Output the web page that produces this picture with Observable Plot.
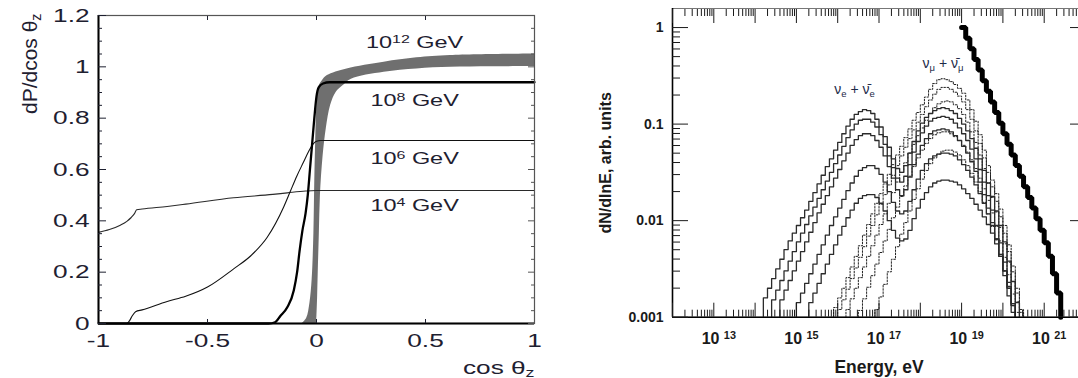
<!DOCTYPE html>
<html><head><meta charset="utf-8">
<script src="https://cdn.jsdelivr.net/npm/d3@7"></script>
<script src="https://cdn.jsdelivr.net/npm/@observablehq/plot@0.6"></script>
<style>
html,body{margin:0;padding:0;background:#fff;overflow:hidden;}
#wrap{position:relative;width:1078px;height:378px;overflow:hidden;background:#fff;}
#left{position:absolute;left:0;top:0;width:560px;height:378px;}
#right{position:absolute;left:560px;top:0;width:530px;height:378px;}
#wrap svg{display:block;overflow:visible;max-width:none !important;}
</style></head><body><div id="wrap"><div id="left"></div><div id="right"></div></div>
<script>
// ================= LEFT PANEL DATA (dP/dcos θz vs cos θz) =================
const cosZ_1e4 = [-1, -0.95, -0.9, -0.87, -0.85, -0.835, -0.825, -0.8, -0.685, -0.6, -0.38, -0.2, -0.134, -0.05, 0.0, 1.0];
const dP_1e4   = [0.355, 0.366, 0.383, 0.398, 0.413, 0.428, 0.443, 0.446, 0.456, 0.465, 0.490, 0.503, 0.509, 0.516, 0.518, 0.518];

const cosZ_1e6 = [-1, -0.87, -0.86, -0.845, -0.83, -0.8, -0.685, -0.6, -0.5, -0.38, -0.3, -0.226, -0.15, -0.12, -0.09, -0.06, -0.035, -0.015, 0.0, 0.02, 1.0];
const dP_1e6   = [0, 0, 0.008, 0.03, 0.046, 0.053, 0.086, 0.106, 0.142, 0.213, 0.265, 0.336, 0.455, 0.515, 0.575, 0.628, 0.672, 0.70, 0.71, 0.713, 0.713];

const cosZ_1e8 = [-1, -0.22, -0.19, -0.165, -0.134, -0.104, -0.089, -0.078, -0.065, -0.05, -0.04, -0.03, -0.02, -0.01, 0.0, 0.01, 0.03, 0.06, 1.0];
const dP_1e8   = [0, 0, 0.005, 0.03, 0.063, 0.13, 0.2, 0.28, 0.36, 0.43, 0.5, 0.6, 0.7, 0.8, 0.885, 0.92, 0.935, 0.94, 0.94];

// 10^12 GeV: a band, upper/left edge and lower/right edge
const band1e12_upperX = [-0.065, -0.045, -0.03, -0.02, -0.012, -0.008, -0.004, 0.0, 0.005, 0.012, 0.026, 0.05, 0.14, 0.31, 0.46, 0.615, 1.0];
const band1e12_upperY = [0, 0.02, 0.08, 0.17, 0.35, 0.55, 0.7, 0.82, 0.89, 0.925, 0.945, 0.966, 0.992, 1.018, 1.035, 1.044, 1.05];
const band1e12_lowerX = [0.0, 0.002, 0.005, 0.008, 0.013, 0.018, 0.03, 0.045, 0.065, 0.09, 0.12, 0.16, 0.31, 0.46, 0.615, 0.8, 1.0];
const band1e12_lowerY = [0, 0.03, 0.1, 0.2, 0.35, 0.5, 0.65, 0.76, 0.85, 0.9, 0.925, 0.952, 0.979, 0.992, 0.998, 1.0, 1.001];

const energyLabels = ["10^{4} GeV", "10^{6} GeV", "10^{8} GeV", "10^{12} GeV"];
const leftYTicks = [0, 0.2, 0.4, 0.6, 0.8, 1, 1.2];
const leftYMinor = [0.05, 0.1, 0.15, 0.25, 0.3, 0.35, 0.45, 0.5, 0.55, 0.65, 0.7, 0.75, 0.85, 0.9, 0.95, 1.05, 1.1, 1.15];
const leftXTicks = [-1, -0.5, 0, 0.5, 1];
const leftXInner = [-0.5, 0, 0.5];

// ================= RIGHT PANEL DATA (dN/dlnE vs Energy) =================
// each histogram: log10(E/eV) of first bin's lower edge, bins 0.1 decade wide, log10(dN/dlnE) per bin
const solidA_start = 14.2;
const solidA_log10 = [-2.80,-2.70,-2.60,-2.50,-2.40,-2.30,-2.21,-2.13,-2.05,-1.97,-1.89,-1.80,-1.71,-1.62,-1.53,-1.44,-1.36,-1.27,-1.19,-1.10,-1.02,-0.95,-0.90,-0.87,-0.85,-0.86,-0.89,-0.95,-1.03,-1.13,-1.24,-1.36,-1.46,-1.50,-1.43,-1.30,-1.18,-1.07,-0.99,-0.93,-0.89,-0.86,-0.84,-0.83,-0.84,-0.86,-0.89,-0.94,-1.00,-1.07,-1.15,-1.25,-1.36,-1.48,-1.61,-1.75,-1.90,-2.05,-2.22,-2.42,-2.63,-2.85];
const solidB_start = 14.4;
const solidB_log10 = [-2.82,-2.72,-2.62,-2.52,-2.42,-2.32,-2.22,-2.13,-2.04,-1.95,-1.86,-1.77,-1.68,-1.59,-1.50,-1.41,-1.32,-1.23,-1.14,-1.06,-1.00,-0.96,-0.95,-0.95,-0.98,-1.03,-1.11,-1.21,-1.33,-1.45,-1.56,-1.60,-1.54,-1.42,-1.29,-1.18,-1.09,-1.02,-0.97,-0.94,-0.93,-0.92,-0.93,-0.95,-0.99,-1.04,-1.10,-1.17,-1.26,-1.36,-1.47,-1.60,-1.74,-1.89,-2.05,-2.23,-2.43,-2.64,-2.86];
const solidC_start = 14.6;
const solidC_log10 = [-2.82,-2.72,-2.62,-2.52,-2.42,-2.32,-2.22,-2.12,-2.02,-1.92,-1.83,-1.74,-1.65,-1.56,-1.47,-1.38,-1.30,-1.22,-1.16,-1.12,-1.10,-1.10,-1.12,-1.17,-1.24,-1.33,-1.44,-1.56,-1.68,-1.74,-1.68,-1.55,-1.42,-1.31,-1.22,-1.15,-1.10,-1.07,-1.06,-1.05,-1.06,-1.08,-1.12,-1.17,-1.23,-1.30,-1.39,-1.49,-1.60,-1.73,-1.87,-2.02,-2.19,-2.37,-2.57,-2.78,-2.95];
const solidD_start = 15.0;
const solidD_log10 = [-2.85,-2.75,-2.65,-2.55,-2.45,-2.35,-2.25,-2.15,-2.05,-1.96,-1.87,-1.78,-1.69,-1.61,-1.54,-1.48,-1.45,-1.43,-1.43,-1.46,-1.52,-1.60,-1.70,-1.81,-1.90,-1.93,-1.90,-1.80,-1.68,-1.57,-1.48,-1.41,-1.36,-1.33,-1.31,-1.30,-1.30,-1.31,-1.33,-1.37,-1.42,-1.48,-1.55,-1.63,-1.72,-1.82,-1.93,-2.05,-2.19,-2.35,-2.52,-2.70,-2.88];
const solidE_start = 15.3;
const solidE_log10 = [-2.85,-2.75,-2.65,-2.55,-2.45,-2.35,-2.25,-2.15,-2.06,-1.97,-1.89,-1.82,-1.77,-1.74,-1.73,-1.73,-1.76,-1.82,-1.90,-2.00,-2.10,-2.18,-2.21,-2.19,-2.10,-1.98,-1.87,-1.78,-1.71,-1.65,-1.61,-1.59,-1.58,-1.58,-1.59,-1.60,-1.63,-1.67,-1.72,-1.77,-1.83,-1.89,-1.96,-2.04,-2.13,-2.24,-2.37,-2.52,-2.68,-2.86];

const dotted1_start = 15.9;
const dotted1_log10 = [-2.90,-2.80,-2.70,-2.59,-2.48,-2.37,-2.26,-2.15,-2.04,-1.93,-1.82,-1.72,-1.62,-1.52,-1.42,-1.32,-1.23,-1.14,-1.05,-0.96,-0.88,-0.80,-0.72,-0.64,-0.58,-0.54,-0.53,-0.54,-0.56,-0.59,-0.63,-0.68,-0.75,-0.85,-0.97,-1.11,-1.27,-1.43,-1.58,-1.72,-1.88,-2.05,-2.25,-2.47,-2.70,-2.92];
const dotted2_start = 16.0;
const dotted2_log10 = [-2.92,-2.82,-2.71,-2.60,-2.49,-2.38,-2.27,-2.16,-2.05,-1.94,-1.83,-1.73,-1.63,-1.53,-1.43,-1.33,-1.24,-1.15,-1.06,-0.98,-0.90,-0.82,-0.75,-0.69,-0.64,-0.62,-0.62,-0.64,-0.67,-0.71,-0.77,-0.85,-0.95,-1.07,-1.20,-1.35,-1.50,-1.65,-1.80,-1.96,-2.13,-2.32,-2.53,-2.75,-2.95];
const dotted3_start = 16.2;
const dotted3_log10 = [-2.92,-2.81,-2.70,-2.59,-2.48,-2.37,-2.26,-2.15,-2.04,-1.93,-1.82,-1.71,-1.60,-1.50,-1.40,-1.30,-1.21,-1.12,-1.04,-0.96,-0.89,-0.83,-0.79,-0.77,-0.76,-0.77,-0.80,-0.84,-0.90,-0.98,-1.08,-1.19,-1.32,-1.46,-1.61,-1.76,-1.91,-2.07,-2.24,-2.43,-2.63,-2.84];
const dotted4_start = 16.5;
const dotted4_log10 = [-2.93,-2.81,-2.69,-2.57,-2.45,-2.33,-2.21,-2.09,-1.97,-1.86,-1.75,-1.64,-1.54,-1.44,-1.35,-1.27,-1.20,-1.15,-1.11,-1.09,-1.08,-1.08,-1.10,-1.13,-1.17,-1.22,-1.29,-1.37,-1.46,-1.56,-1.67,-1.79,-1.92,-2.06,-2.21,-2.38,-2.56,-2.76,-2.95];
const dotted5_start = 16.9;
const dotted5_log10 = [-2.92,-2.79,-2.66,-2.53,-2.40,-2.27,-2.14,-2.02,-1.90,-1.78,-1.67,-1.57,-1.48,-1.41,-1.35,-1.31,-1.28,-1.27,-1.27,-1.29,-1.32,-1.37,-1.43,-1.51,-1.60,-1.70,-1.81,-1.93,-2.06,-2.20,-2.35,-2.52,-2.70,-2.88];

const primary_start = 19.0;
const primary_log10 = [0.0,-0.11,-0.22,-0.33,-0.44,-0.55,-0.66,-0.77,-0.88,-0.99,-1.10,-1.21,-1.32,-1.43,-1.54,-1.65,-1.76,-1.87,-1.98,-2.10,-2.23,-2.37,-2.55,-2.75];

const eTickExponents = [13, 15, 17, 19, 21];
const rightYTicks = [0.001, 0.01, 0.1, 1];
const rightYTickLabels = ["0.001", "0.01", "0.1", "1"];
const nuELabel = "ν_{e} + ν\u0304_{e}";
const nuMuLabel = "ν_{μ} + ν\u0304_{μ}";

// ================= helpers =================
const pts = (xs, ys) => xs.map((x, i) => ({x, y: ys[i]}));
const BIN = 0.1;
function stepPoints(start, logs, dropStart, dropEnd) {
  const out = [];
  if (dropStart) out.push({E: 10 ** start, v: 1e-3});
  logs.forEach((l, i) => out.push({E: 10 ** (start + BIN * i), v: 10 ** l}));
  const end = start + BIN * logs.length;
  out.push({E: 10 ** end, v: dropEnd ? 1e-3 : 10 ** logs[logs.length - 1]});
  return out;
}
function richify(svg) {
  svg.querySelectorAll("text").forEach(t => {
    const s = t.textContent;
    if (!/[\^_]\{/.test(s)) return;
    while (t.firstChild) t.removeChild(t.firstChild);
    const re = /([\^_])\{([^}]*)\}/g;
    let last = 0, m;
    const parts = [];
    while ((m = re.exec(s))) {
      if (m.index > last) parts.push({t: s.slice(last, m.index)});
      parts.push({t: m[2], k: m[1]});
      last = re.lastIndex;
    }
    if (last < s.length) parts.push({t: s.slice(last)});
    for (const p of parts) {
      const ts = document.createElementNS("http://www.w3.org/2000/svg", "tspan");
      ts.textContent = p.t;
      if (p.k) {
        ts.setAttribute("font-size", "68%");
        ts.setAttribute("baseline-shift", p.k === "^" ? "45%" : "-25%");
      }
      t.appendChild(ts);
    }
  });
}
function stretch(svg, k) {
  svg.querySelectorAll("text").forEach(t => {
    const tr = t.getAttribute("transform") || "";
    if (tr.includes("rotate")) return;
    const x = parseFloat(t.getAttribute("x")) || 0;
    t.setAttribute("transform", `${tr} translate(${x},0) scale(${k},1) translate(${-x},0)`);
  });
}

// ================= LEFT PANEL =================
const band = band1e12_upperX.map((x, i) => ({x1: x, y1: band1e12_upperY[i], x2: band1e12_lowerX[i], y2: band1e12_lowerY[i]}));
const lastOf = a => a[a.length - 1];
const ink = "#1e2030";
const empty = () => "";

const left = Plot.plot({
  width: 560, height: 378,
  marginLeft: 98, marginRight: 26, marginTop: 15, marginBottom: 55,
  style: {fontFamily: "'Liberation Sans', Arial, sans-serif", color: ink, background: "white", maxWidth: "none"},
  x: {domain: [-1, 1]},
  y: {domain: [0, 1.2]},
  marks: [
    Plot.area(band, {x1: "x1", y1: "y1", x2: "x2", y2: "y2", fill: "#6f6f6f", curve: "catmull-rom"}),
    Plot.line(pts(cosZ_1e4, dP_1e4), {x: "x", y: "y", stroke: "#2a2a2a", strokeWidth: 1.1, curve: "monotone-x"}),
    Plot.line(pts(cosZ_1e6, dP_1e6), {x: "x", y: "y", stroke: "#111", strokeWidth: 1.1, curve: "monotone-x"}),
    Plot.line(pts(cosZ_1e8, dP_1e8), {x: "x", y: "y", stroke: "#000", strokeWidth: 2.3, curve: "monotone-x"}),
    Plot.text([energyLabels[0]], {x: 0.45, y: lastOf(dP_1e4), dy: 15, text: d => d, fontSize: 17, textAnchor: "middle", lineAnchor: "middle", fill: ink}),
    Plot.text([energyLabels[1]], {x: 0.45, y: lastOf(dP_1e6), dy: 18, text: d => d, fontSize: 17, textAnchor: "middle", lineAnchor: "middle", fill: ink}),
    Plot.text([energyLabels[2]], {x: 0.45, y: lastOf(dP_1e8), dy: 18, text: d => d, fontSize: 17, textAnchor: "middle", lineAnchor: "middle", fill: ink}),
    Plot.text([energyLabels[3]], {x: 0.45, y: lastOf(band1e12_upperY), dy: -11, text: d => d, fontSize: 17, textAnchor: "middle", lineAnchor: "middle", fill: ink}),
    Plot.frame({stroke: "#555", strokeWidth: 1.2}),
    Plot.ruleX([-1], {stroke: "#000", strokeWidth: 2}),
    Plot.ruleY([0], {stroke: "#000", strokeWidth: 2}),
    Plot.axisY({anchor: "left", ticks: leftYTicks, tickSize: 0, tickPadding: 9, tickFormat: d => String(d), fontSize: 19, label: null}),
    Plot.axisY({anchor: "left", ticks: leftYTicks, tickSize: -8, tickFormat: empty, label: null}),
    Plot.axisY({anchor: "left", ticks: leftYMinor, tickSize: -4, tickFormat: empty, label: null}),
    Plot.axisY({anchor: "right", ticks: leftYTicks, tickSize: -7, tickFormat: empty, label: null, stroke: "#555"}),
    Plot.axisY({anchor: "right", ticks: leftYMinor, tickSize: -4, tickFormat: empty, label: null, stroke: "#555"}),
    Plot.axisX({anchor: "bottom", ticks: leftXTicks, tickSize: 0, tickPadding: 10, tickFormat: d => String(d), fontSize: 19, label: null}),
    Plot.axisX({anchor: "bottom", ticks: leftXInner, tickSize: -4, tickFormat: empty, label: null}),
    Plot.axisX({anchor: "top", ticks: leftXInner, tickSize: -4, tickFormat: empty, label: null}),
    Plot.text(["cos θ_{z}"], {frameAnchor: "bottom-right", text: d => d, textAnchor: "end", lineAnchor: "middle", dy: 44, fontSize: 19, fill: ink}),
    Plot.text(["dP/dcos θ_{z}"], {frameAnchor: "top-left", text: d => d, rotate: -90, textAnchor: "end", lineAnchor: "middle", dx: -68, dy: -2, fontSize: 21, fill: ink})
  ]
});
richify(left);
stretch(left, 1.38);
document.getElementById("left").appendChild(left);

// ================= RIGHT PANEL =================
const solids = [
  [solidA_start, solidA_log10], [solidB_start, solidB_log10], [solidC_start, solidC_log10],
  [solidD_start, solidD_log10], [solidE_start, solidE_log10]
];
const dotted = [
  [dotted1_start, dotted1_log10], [dotted2_start, dotted2_log10], [dotted3_start, dotted3_log10],
  [dotted4_start, dotted4_log10], [dotted5_start, dotted5_log10]
];
// label anchors: first-hump peak of the top solid curve, peak of the top dotted curve
function peakOf(start, logs, maxE) {
  let bi = 0;
  logs.forEach((l, i) => { if (start + BIN * i < maxE && l > logs[bi]) bi = i; });
  return {E: 10 ** (start + BIN * (bi + 0.5)), v: 10 ** logs[bi]};
}
const nuEPeak = peakOf(solidA_start, solidA_log10, 17.2);
const nuMuPeak = peakOf(dotted1_start, dotted1_log10, 99);

const decades = [];
const minorE = [];
for (let e = 12; e <= 22; e++) {
  decades.push(10 ** e);
  if (e < 22) for (let k = 2; k <= 9; k++) minorE.push(k * 10 ** e);
}
const minorY = [];
for (let e = -3; e <= -1; e++) for (let k = 2; k <= 9; k++) minorY.push(k * 10 ** e);

const rink = "#1a1a1a";
const rightMarks = [];
for (const [s, l] of dotted) rightMarks.push(Plot.line(stepPoints(s, l, true, true), {x: "E", y: "v", curve: "step-after", stroke: "#222", strokeWidth: 1, strokeDasharray: "1.6,1.6"}));
for (const [s, l] of solids) rightMarks.push(Plot.line(stepPoints(s, l, true, true), {x: "E", y: "v", curve: "step-after", stroke: "#2b2b2b", strokeWidth: 1.3}));
rightMarks.push(Plot.line(stepPoints(primary_start, primary_log10, false, true), {x: "E", y: "v", curve: "step-after", stroke: "#000", strokeWidth: 5, strokeLinejoin: "miter"}));

const yLabelOf = d => rightYTickLabels[rightYTicks.findIndex(t => Math.abs(Math.log10(t) - Math.log10(d)) < 1e-6)];

const right = Plot.plot({
  width: 530, height: 378,
  marginLeft: 112, marginRight: 5, marginTop: 8, marginBottom: 61.3,
  style: {fontFamily: "'Liberation Sans', Arial, sans-serif", color: rink, background: "white", maxWidth: "none"},
  x: {type: "log", domain: [1e12, 1e22]},
  y: {type: "log", domain: [1e-3, 1.575]},
  marks: [
    ...rightMarks,
    Plot.text([nuEPeak], {x: "E", y: "v", text: () => nuELabel, dx: -10, dy: -20, fontSize: 14, textAnchor: "middle", lineAnchor: "middle", fill: "#1c2a48"}),
    Plot.text([nuMuPeak], {x: "E", y: "v", text: () => nuMuLabel, dx: 0, dy: -15, fontSize: 14, textAnchor: "middle", lineAnchor: "middle", fill: "#1c2a48"}),
    Plot.frame({stroke: "#777", strokeWidth: 1}),
    Plot.ruleX([1e12], {stroke: "#000", strokeWidth: 1.6}),
    Plot.ruleY([1e-3], {stroke: "#000", strokeWidth: 1.6}),
    Plot.axisY({anchor: "left", ticks: rightYTicks, tickSize: 0, tickPadding: 9, tickFormat: yLabelOf, fontSize: 14, fontWeight: "bold", label: null}),
    Plot.axisY({anchor: "left", ticks: rightYTicks, tickSize: -16, tickFormat: empty, label: null}),
    Plot.axisY({anchor: "left", ticks: minorY, tickSize: -8, tickFormat: empty, label: null}),
    Plot.axisY({anchor: "right", ticks: rightYTicks, tickSize: -16, tickFormat: empty, label: null}),
    Plot.axisY({anchor: "right", ticks: minorY, tickSize: -8, tickFormat: empty, label: null}),
    Plot.axisX({anchor: "bottom", ticks: eTickExponents.map(e => 10 ** e), tickSize: 0, tickPadding: 15, dx: 5, tickFormat: d => `10 ^{${Math.round(Math.log10(d))}}`, fontSize: 16, fontWeight: "bold", label: null}),
    Plot.axisX({anchor: "bottom", ticks: decades, tickSize: -14, tickFormat: empty, label: null}),
    Plot.axisX({anchor: "bottom", ticks: minorE, tickSize: -7, tickFormat: empty, label: null}),
    Plot.axisX({anchor: "top", ticks: decades, tickSize: -14, tickFormat: empty, label: null}),
    Plot.axisX({anchor: "top", ticks: minorE, tickSize: -7, tickFormat: empty, label: null}),
    Plot.text(["Energy, eV"], {frameAnchor: "bottom", text: d => d, textAnchor: "middle", lineAnchor: "middle", dy: 50, fontSize: 17.5, fontWeight: "bold", fill: rink}),
    Plot.text(["dN/dlnE, arb. units"], {frameAnchor: "left", text: d => d, rotate: -90, textAnchor: "middle", lineAnchor: "middle", dx: -67, fontSize: 16, fontWeight: "bold", fill: rink})
  ]
});
richify(right);
document.getElementById("right").appendChild(right);
</script></body></html>
